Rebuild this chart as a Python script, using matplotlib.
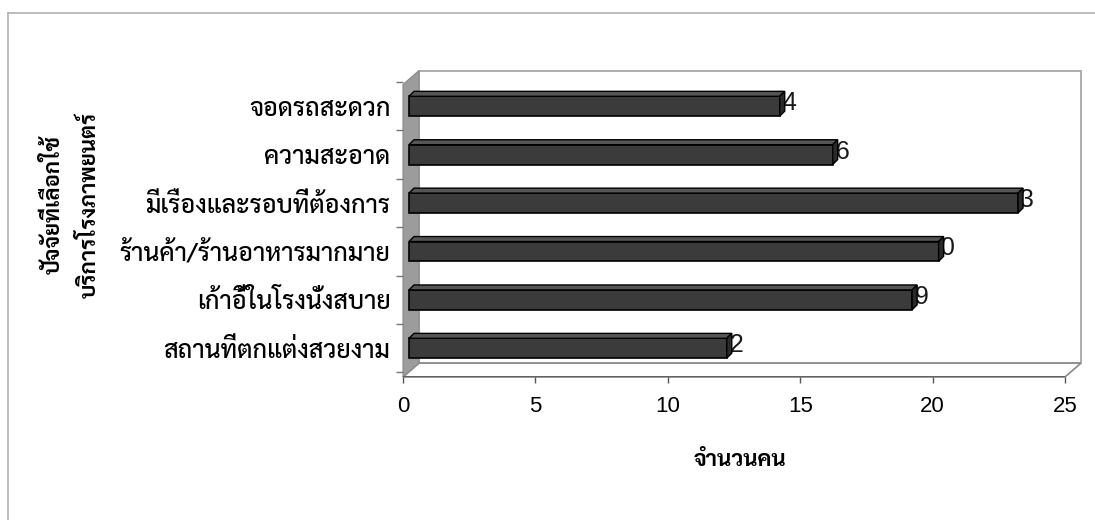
import matplotlib
matplotlib.use('Agg')
import matplotlib.pyplot as plt
import numpy as np
from matplotlib.patches import Polygon
from matplotlib.lines import Line2D

# data (top to bottom as in the chart)
factors = ['จอดรถสะดวก', 'ความสะอาด', 'มีเรื่องและรอบที่ต้องการ',
           'ร้านค้า/ร้านอาหารมากมาย', 'เก้าอี้ในโรงนั่งสบาย', 'สถานที่ตกแต่งสวยงาม']
counts = [14, 16, 23, 20, 19, 12]
x_ticks = [0, 5, 10, 15, 20, 25]
x_title = 'จำนวนคน'
y_title = ['ปัจจัยที่เลือกใช้', 'บริการโรงภาพยนตร์']

thai = ['Sarabun', 'Noto Sans Thai Looped', 'Noto Sans Thai', 'Liberation Sans']
num = ['Liberation Sans', 'DejaVu Sans']

W, H = 1095, 520
fig = plt.figure(figsize=(W / 100, H / 100), dpi=100)

# front plane of the 3d box, in pixels
left_px, right_px, top_px, bot_px = 403, 1065, 82, 377
ax = fig.add_axes([left_px / W, 1 - bot_px / H, (right_px - left_px) / W, (bot_px - top_px) / H])
ax.set_xlim(0, 25)
ax.set_ylim(5.594, -0.45)

# pixel -> data units
ux = 25 / (right_px - left_px)
uy = (5.594 + 0.45) / (bot_px - top_px)

dx, dy = 16 * ux, 14 * uy       # depth of the box
bx, by = 5 * ux, 5 * uy         # depth of each bar
off = 6 * ux                    # bars sit a bit behind the front plane
bh = 20 * uy

x0, x1 = ax.get_xlim()
yb, yt = ax.get_ylim()

# back wall
ax.add_patch(Polygon([(x0 + dx, yb - dy), (x0 + dx, yt - dy), (x1 + dx, yt - dy), (x1 + dx, yb - dy)],
                     closed=True, facecolor='white', edgecolor='#a0a0a0', lw=1.2, clip_on=False, zorder=0))
# floor
ax.add_patch(Polygon([(x0, yb), (x1, yb), (x1 + dx, yb - dy), (x0 + dx, yb - dy)],
                     closed=True, facecolor='white', edgecolor='#8a8a8a', lw=1.2, clip_on=False, zorder=0.5))
# left wall
ax.add_patch(Polygon([(x0, yb), (x0, yt), (x0 + dx, yt - dy), (x0 + dx, yb - dy)],
                     closed=True, facecolor='#9c9c9c', edgecolor='#8a8a8a', lw=0.8, clip_on=False, zorder=0.6))

ypos = np.arange(len(factors))

# value labels, first digit tucked behind the bar end like the original
for y, v in zip(ypos, counts):
    ax.text(v + off - 11 * ux, y - 3 * uy, str(v), ha='left', va='center',
            fontsize=18, family=num, color='#1a1a1a', zorder=1, clip_on=False)

ax.barh(ypos, counts, height=bh, left=off, color='#3b3b3b', edgecolor='black', lw=1.2, zorder=3)
for y, v in zip(ypos, counts):
    xa, xb = off, v + off
    ya, yb_ = y - bh / 2, y + bh / 2
    ax.add_patch(Polygon([(xa, ya), (xb, ya), (xb + bx, ya - by), (xa + bx, ya - by)],
                         closed=True, facecolor='#555555', edgecolor='black', lw=1.0, zorder=3, clip_on=False))
    ax.add_patch(Polygon([(xb, ya), (xb, yb_), (xb + bx, yb_ - by), (xb + bx, ya - by)],
                         closed=True, facecolor='#2a2a2a', edgecolor='black', lw=1.0, zorder=3, clip_on=False))

for s in ax.spines.values():
    s.set_visible(False)
ax.patch.set_visible(False)

ax.set_xticks(x_ticks)
ax.set_xticklabels([str(t) for t in x_ticks], fontsize=16, family=num)
ax.tick_params(axis='x', length=4, width=1, color='#555555', pad=10)
ax.add_line(Line2D([x0, x1], [yb, yb], color='#555555', lw=1.2, zorder=1))

ax.set_yticks(ypos)
ax.set_yticklabels(factors, fontsize=18, family=thai, fontweight='medium')
ax.set_yticks(np.arange(len(factors) + 1) - 0.5, minor=True)
ax.tick_params(axis='y', which='major', length=0, pad=9)
ax.tick_params(axis='y', which='minor', length=5, width=1, color='#777777')

fig.text(740 / W, 1 - 460 / H, x_title, ha='center', va='center', fontsize=16,
         fontweight='bold', family=thai)
fig.text(54 / W, 1 - 205 / H, y_title[0], ha='center', va='center', rotation=90,
         fontsize=16, fontweight='bold', family=thai)
fig.text(90 / W, 1 - 205 / H, y_title[1], ha='center', va='center', rotation=90,
         fontsize=16, fontweight='bold', family=thai)

# outer chart frame (only top and left show in the crop)
fig.add_artist(Line2D([8 / W, 1], [1 - 13 / H, 1 - 13 / H], color='#b0b0b0', lw=1.2))
fig.add_artist(Line2D([8 / W, 8 / W], [1 - 13 / H, 0], color='#b0b0b0', lw=1.2))

fig.savefig('out.png', dpi=100)
